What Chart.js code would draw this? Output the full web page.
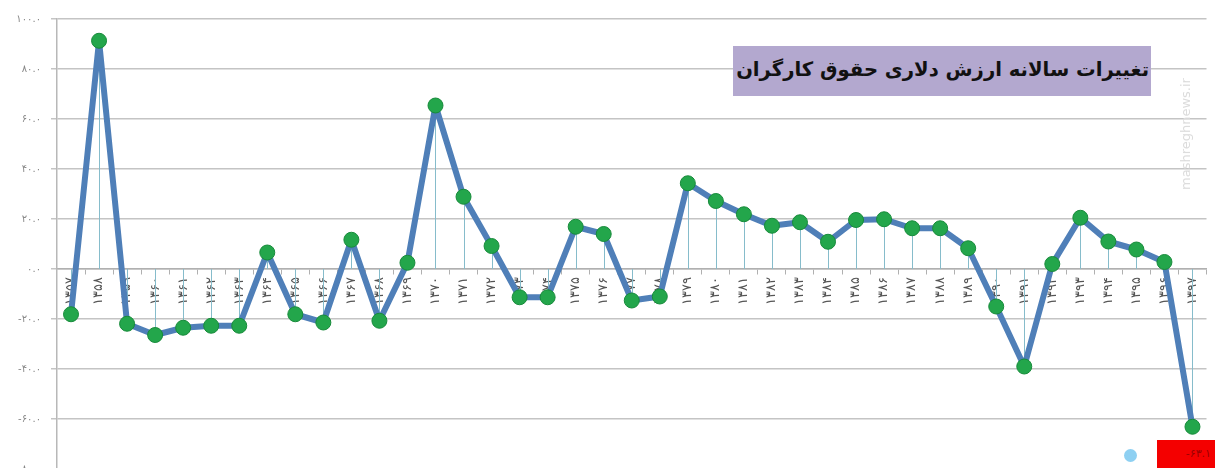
<!DOCTYPE html>
<html><head><meta charset="utf-8">
<script src="https://cdn.jsdelivr.net/npm/chart.js@4.4.1/dist/chart.umd.min.js"></script>
<style>
html,body{margin:0;padding:0;background:#fff;overflow:hidden;width:1215px;height:468px;}
#wrap{position:relative;width:1215px;height:485px;}
#title{position:absolute;left:733px;top:46px;width:418px;height:50px;background:#b3a8cf;
 font-family:"DejaVu Sans",sans-serif;font-weight:bold;font-size:19.6px;color:#111;direction:rtl;
 text-align:right;line-height:48px;padding:0 2px;box-sizing:border-box;white-space:nowrap;}
#wm{position:absolute;left:1178px;top:190px;font-family:"DejaVu Sans",sans-serif;font-size:13px;color:#dcdcdc;
 transform-origin:left top;transform:rotate(-90deg);white-space:nowrap;}
#red{position:absolute;left:1157px;top:440px;width:58px;height:30px;background:#f40000;
 font-family:"DejaVu Sans",sans-serif;font-size:11px;color:#9a0000;text-align:right;line-height:28px;padding-right:4px;box-sizing:border-box;}
#dot{position:absolute;left:1124px;top:449px;width:13px;height:13px;border-radius:50%;background:#8ed0f2;}
</style></head>
<body>
<div id="wrap"><canvas id="c" width="1215" height="485"></canvas>
<div id="title">تغییرات سالانه ارزش دلاری حقوق کارگران</div>
<div id="wm">mashreghnews.ir</div>
<div id="dot"></div>
<div id="red">-۶۳.۱</div>
</div>
<script>
const years = ['۱۳۵۷','۱۳۵۸','۱۳۵۹','۱۳۶۰','۱۳۶۱','۱۳۶۲','۱۳۶۳','۱۳۶۴','۱۳۶۵','۱۳۶۶',
 '۱۳۶۷','۱۳۶۸','۱۳۶۹','۱۳۷۰','۱۳۷۱','۱۳۷۲','۱۳۷۳','۱۳۷۴','۱۳۷۵','۱۳۷۶',
 '۱۳۷۷','۱۳۷۸','۱۳۷۹','۱۳۸۰','۱۳۸۱','۱۳۸۲','۱۳۸۳','۱۳۸۴','۱۳۸۵','۱۳۸۶',
 '۱۳۸۷','۱۳۸۸','۱۳۸۹','۱۳۹۰','۱۳۹۱','۱۳۹۲','۱۳۹۳','۱۳۹۴','۱۳۹۵','۱۳۹۶','۱۳۹۷'];
const changes = [-18.1, 91.3, -21.9, -26.4, -23.5, -22.7, -22.7, 6.6, -18.1, -21.4,
 11.7, -20.7, 2.5, 65.4, 28.9, 9.2, -11.3, -11.3, 16.9, 14.0,
 -12.6, -11.0, 34.3, 27.2, 21.9, 17.3, 18.7, 10.9, 19.6, 19.9,
 16.3, 16.3, 8.3, -15.0, -39.0, 2.0, 20.5, 11.0, 7.8, 2.8, -63.1];
const yTicks = [100, 80, 60, 40, 20, 0, -20, -40, -60, -80];

const fa = s => String(s).replace(/[0-9]/g, d => '۰۱۲۳۴۵۶۷۸۹'[d]);

const dropLines = {
  id: 'dropLines',
  beforeDatasetsDraw(chart) {
    const ctx = chart.ctx, meta = chart.getDatasetMeta(0), y0 = chart.scales.y.getPixelForValue(0);
    ctx.save();
    ctx.strokeStyle = '#86bccb';
    ctx.lineWidth = 1;
    meta.data.forEach(p => {
      ctx.beginPath(); ctx.moveTo(Math.round(p.x) + 0.5, p.y); ctx.lineTo(Math.round(p.x) + 0.5, y0); ctx.stroke();
    });
    ctx.restore();
  }
};

new Chart(document.getElementById('c'), {
  type: 'line',
  data: { labels: years, datasets: [{
    data: changes,
    borderColor: '#4f7fb8',
    borderWidth: 6,
    borderJoinStyle: 'round',
    borderCapStyle: 'round',
    pointRadius: 7.5,
    pointBackgroundColor: '#23a64b',
    pointBorderColor: '#178a3a',
    pointBorderWidth: 1,
    tension: 0
  }]},
  options: {
    responsive: false,
    animation: false,
    layout: { padding: { top: 19, right: 8, bottom: 7, left: 0 } },
    plugins: { legend: { display: false }, tooltip: { enabled: false } },
    scales: {
      x: {
        position: { y: 0 },
        offset: true,
        grid: { display: true, drawOnChartArea: false, drawTicks: true, tickLength: 5, offset: true, color: '#b0b0b0' },
        border: { display: true, color: '#b0b0b0', width: 1.5 },
        ticks: { autoSkip: false, minRotation: 90, maxRotation: 90, padding: 3,
          color: '#555', font: { family: 'DejaVu Sans', size: 13 } }
      },
      y: {
        min: -80, max: 100,
        afterFit(s) { s.width = 57; },
        afterBuildTicks(s) { s.ticks = yTicks.map(v => ({ value: v })); },
        grid: { color: '#c4c4c4', lineWidth: 1.5, tickLength: 6 },
        border: { display: true, color: '#b8b8b8', width: 1.5 },
        ticks: { padding: 10, color: '#888', font: { family: 'DejaVu Sans', size: 10 },
          callback: v => fa(v.toFixed(1)) }
      }
    }
  },
  plugins: [dropLines]
});
</script>
</body></html>
